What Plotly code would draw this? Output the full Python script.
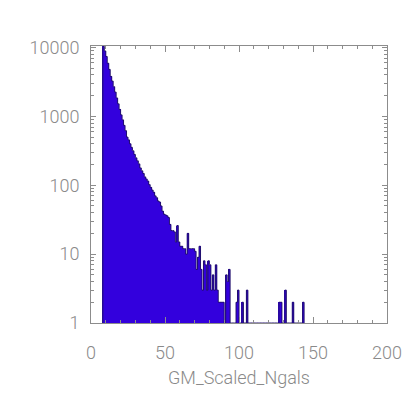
import plotly.graph_objects as go
import math

# histogram bins (left edges, width 1) and counts
main_bins = list(range(8, 94))
main_counts = [
    10400, 8900, 7400, 5900, 4800, 3800, 3250, 2700, 2250, 1850,   # 8-17
    1520, 1260, 1050, 890, 740, 620, 500, 455, 400, 355,           # 18-27
    316, 280, 250, 226, 204, 178, 162, 148, 132, 123,              # 28-37
    115, 102, 93, 85, 79, 70, 66, 59, 57, 50,                      # 38-47
    42, 38, 37, 36, 34, 27, 22, 22, 21, 15,                        # 48-57
    26, 15, 13, 13, 12, 12, 10, 20, 12, 12,                        # 58-67
    12, 12, 11, 6, 9, 13, 6, 3, 8, 7,                              # 68-77
    3, 8, 7, 3, 5, 3, 7, 3, 2, 2,                                  # 78-87
    2, 2, 1, 5, 4, 6,                                              # 88-93
]
tail_bins = [98, 99, 100, 102, 105, 127, 128, 131, 136, 143]
tail_counts = [2, 3, 1, 2, 3, 2, 2, 3, 2, 2]

x_ticks = [0, 50, 100, 150, 200]
y_ticks = [1, 10, 100, 1000, 10000]
y_ticktext = ["1", "10", "100", "1000", "10000"]
x_title = "GM_Scaled_Ngals"

bins = main_bins + tail_bins
counts = main_counts + tail_counts
cmap = dict(zip(bins, counts))

ymax = 10500
fill_col = "#3300DD"
edge_col = "#22106E"
axis_col = "#8C8C8C"
text_col = "#8A8A8A"
font_fam = "Roboto, Liberation Sans, sans-serif"
fsize = 18

fig = go.Figure()
fig.add_trace(go.Bar(
    x=[b + 0.5 for b in bins], y=counts, width=1,
    marker=dict(color=fill_col, line=dict(width=0)),
    showlegend=False, hoverinfo="skip",
))

# step outline
lo, hi = min(bins), max(bins) + 1
sx, sy = [], []
for b in range(lo, hi):
    c = cmap.get(b, 0)
    sx.append(b)
    sy.append(max(c, 1))
sx.append(hi)
sy.append(1)
fig.add_trace(go.Scatter(
    x=[lo] + sx, y=[1] + sy, mode="lines", line_shape="hv",
    line=dict(color=edge_col, width=1), showlegend=False, hoverinfo="skip",
))

y_minor = [k * 10 ** d for d in range(0, 5) for k in range(2, 10) if k * 10 ** d <= ymax]

tfont = dict(family=font_fam, size=fsize, color=text_col, weight=300)

fig.update_layout(
    width=415, height=415,
    margin=dict(l=91, r=28, t=46, b=92),
    paper_bgcolor="white", plot_bgcolor="white",
    bargap=0,
    font=tfont,
    xaxis=dict(
        range=[0, 200], tickvals=x_ticks, ticktext=[str(v) for v in x_ticks],
        ticks="inside", ticklen=6, tickcolor=axis_col, tickwidth=1,
        minor=dict(ticks="inside", ticklen=3, dtick=10, tickcolor=axis_col, showgrid=False),
        showline=True, linecolor=axis_col, linewidth=1, mirror="ticks",
        showgrid=False, zeroline=False,
        tickfont=tfont,
        ticklabelstandoff=13,
        title=dict(text=x_title, font=tfont, standoff=9),
    ),
    yaxis=dict(
        type="log", range=[0, math.log10(ymax)],
        tickvals=y_ticks, ticktext=y_ticktext,
        ticks="inside", ticklen=5, tickcolor=axis_col, tickwidth=1,
        minor=dict(ticks="inside", ticklen=3, tickvals=y_minor, tickcolor=axis_col, showgrid=False),
        showline=True, linecolor=axis_col, linewidth=1, mirror="ticks",
        showgrid=False, zeroline=False,
        tickfont=tfont,
        ticklabelstandoff=7,
    ),
)

fig.write_html("out.html", config={"displayModeBar": False},
               post_script="document.body.style.margin='0';")
